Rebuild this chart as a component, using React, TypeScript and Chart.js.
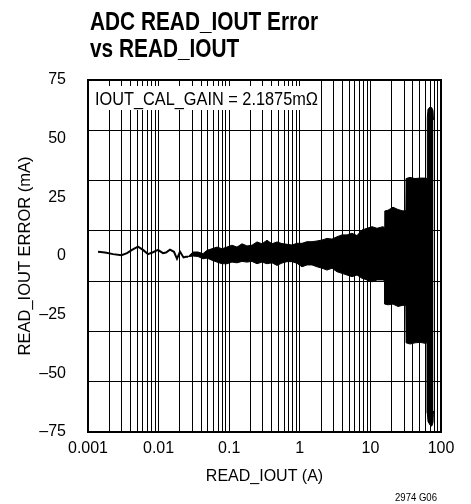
import React, { useEffect, useRef } from 'react';
import { Chart, registerables } from 'chart.js';

Chart.register(...registerables);

// ---- text ----
const TITLE_LINES = ['ADC READ_IOUT Error', 'vs READ_IOUT'];
const ANNOTATION = 'IOUT_CAL_GAIN = 2.1875m\u03A9';
const FIG_ID = '2974 G06';
const X_LABEL = 'READ_IOUT (A)';
const Y_LABEL = 'READ_IOUT ERROR (mA)';

// ---- axes ----
const X_DECADES = [0.001, 0.01, 0.1, 1, 10, 100];
const X_TICK_LABELS = ['0.001', '0.01', '0.1', '1', '10', '100'];
const X_MULTIPLES = [2, 3, 4, 5, 6, 7, 8, 9];
const Y_TICKS = [-75, -50, -25, 0, 25, 50, 75];
const Y_TICK_LABELS = ['\u201375', '\u201350', '\u201325', '0', '25', '50', '75'];
const Y_GRID = [-75, -53.57, -32.14, -10.71, 10.71, 32.14, 53.57, 75];

// ---- data: low-current smooth trace ----
const LINE_X = [0.001386, 0.00174, 0.00226, 0.00298, 0.00357, 0.0042, 0.0051, 0.00601, 0.00708, 0.00833,
  0.0098, 0.01154, 0.01273, 0.0145, 0.01652, 0.01822, 0.0201, 0.02253, 0.02443, 0.02609];
const LINE_Y = [1.8, 1.5, 0.8, 0.3, 1.2, 2.6, 4.0, 2.6, 0.8, 1.6,
  2.6, 1.2, 1.5, 2.7, 1.8, -1.2, 1.8, -0.6, -0.3, -0.3];

// ---- data: noisy region, upper / lower envelope of the trace ----
const BAND_X = [0.02609, 0.03071, 0.03614, 0.04254, 0.04849, 0.05706, 0.06718, 0.07907, 0.09307, 0.1095,
  0.129, 0.1518, 0.1787, 0.2103, 0.2475, 0.2914, 0.343, 0.4038, 0.4753, 0.5595,
  0.6586, 0.7753, 0.9127, 1.0744, 1.2647, 1.4888, 1.7525, 2.063, 2.429, 2.859,
  3.365, 3.961, 4.663, 5.489, 6.461, 7.606, 8.953, 10.54, 12.41, 15.08,
  15.9, 16.0, 17.76, 20.9, 24.6, 28.96, 31.8, 32.0, 36.38, 42.82,
  50.41, 59.34, 63.8, 64.0, 65.5, 69.85, 74, 77, 78.3];
const BAND_UPPER = [-0.3, 1.7, 1.7, 1.0, 2.4, 3.1, 3.8, 3.1, 3.8, 4.6,
  3.8, 5.2, 4.3, 4.6, 6.0, 5.2, 6.7, 5.2, 6.0, 5.3,
  5.0, 4.7, 5.4, 5.4, 6.1, 6.1, 6.4, 6.8, 7.5, 7.2,
  8.2, 9.0, 9.0, 9.7, 8.7, 11.1, 11.8, 12.5, 11.8, 12.5,
  12.0, 19.2, 19.5, 20.8, 19.8, 19.2, 19.4, 33.0, 33.5, 33.0,
  33.2, 33.2, 33.0, 59.0, 62.5, 63.5, 63.2, 62.0, 58.0];
const BAND_LOWER = [-0.3, 0.0, -0.2, -1.2, -0.9, -1.8, -2.6, -3.3, -3.3, -2.6,
  -2.9, -2.3, -2.6, -2.3, -3.3, -2.6, -3.3, -2.9, -4.0, -3.0,
  -2.4, -2.4, -3.1, -4.6, -3.8, -3.8, -4.6, -5.2, -6.0, -5.2,
  -6.7, -7.4, -8.1, -8.8, -8.1, -9.5, -10.2, -11.0, -10.2, -10.2,
  -10.5, -20.5, -20.8, -20.5, -21.5, -21.0, -21.2, -37.0, -37.5, -37.0,
  -36.8, -37.2, -37.0, -67.0, -70.5, -72.0, -72.5, -71.0, -66.0];

const FONT = '"Liberation Sans", Arial, sans-serif';
const INK = '#000';

function buildXGrid(): number[] {
  const out: number[] = [];
  X_DECADES.forEach((d, i) => {
    out.push(d);
    if (i < X_DECADES.length - 1) X_MULTIPLES.forEach((m) => out.push(d * m));
  });
  return out;
}

function drawFitted(ctx: CanvasRenderingContext2D, text: string, x: number, y: number, scale: number) {
  ctx.save();
  ctx.translate(x, y);
  ctx.scale(scale, 1);
  ctx.fillText(text, 0, 0);
  ctx.restore();
}

const decorPlugin = {
  id: 'decor',
  afterDraw(chart: any) {
    const { ctx, chartArea: a } = chart;
    ctx.save();
    // annotation box over the grid
    ctx.fillStyle = '#fff';
    ctx.fillRect(a.left + 1, a.top + 6, 232, 24);
    ctx.fillStyle = INK;
    ctx.textBaseline = 'alphabetic';
    ctx.textAlign = 'left';
    ctx.font = `18px ${FONT}`;
    let w = ctx.measureText(ANNOTATION).width;
    drawFitted(ctx, ANNOTATION, a.left + 7, a.top + 25, 223 / w);

    // title
    ctx.font = `bold 25px ${FONT}`;
    w = ctx.measureText(TITLE_LINES[0]).width;
    const s = 228 / w;
    drawFitted(ctx, TITLE_LINES[0], 90, 30, s);
    drawFitted(ctx, TITLE_LINES[1], 90, 57, s);

    // figure id
    ctx.font = `10px ${FONT}`;
    w = ctx.measureText(FIG_ID).width;
    drawFitted(ctx, FIG_ID, 395, 501, 42 / w);

    // plot frame
    ctx.strokeStyle = INK;
    ctx.lineWidth = 2;
    ctx.strokeRect(a.left, a.top, a.right - a.left, a.bottom - a.top);
    ctx.restore();
  },
};

export default function App() {
  const ref = useRef<HTMLCanvasElement>(null);

  useEffect(() => {
    document.body.style.margin = '0';
    const xGrid = buildXGrid();
    const chart = new Chart(ref.current as HTMLCanvasElement, {
      type: 'line',
      data: {
        datasets: [
          {
            data: LINE_X.map((x, i) => ({ x, y: LINE_Y[i] })),
            borderColor: INK,
            borderWidth: 2,
            pointRadius: 0,
            fill: false,
            tension: 0,
          },
          {
            data: BAND_X.map((x, i) => ({ x, y: BAND_UPPER[i] })),
            borderColor: INK,
            borderWidth: 1,
            pointRadius: 0,
            fill: false,
            tension: 0,
          },
          {
            data: BAND_X.map((x, i) => ({ x, y: BAND_LOWER[i] })),
            borderColor: INK,
            backgroundColor: INK,
            borderWidth: 1,
            pointRadius: 0,
            fill: '-1',
            tension: 0,
          },
        ],
      } as any,
      options: {
        animation: false,
        responsive: false,
        maintainAspectRatio: false,
        layout: { padding: { top: 80, right: 30, bottom: 0, left: 0 } },
        plugins: { legend: { display: false }, tooltip: { enabled: false } },
        scales: {
          x: {
            type: 'logarithmic',
            min: 0.001,
            max: 100,
            afterBuildTicks: (s: any) => {
              s.ticks = xGrid.map((v) => ({ value: v }));
            },
            afterFit: (s: any) => {
              s.height = 72;
            },
            ticks: {
              autoSkip: false,
              maxRotation: 0,
              padding: 7,
              color: INK,
              font: { family: FONT, size: 16 },
              callback: (v: any) => {
                const i = X_DECADES.indexOf(Number(v));
                return i >= 0 ? X_TICK_LABELS[i] : '';
              },
            },
            grid: { color: INK, lineWidth: 1, drawTicks: false },
            border: { display: false },
            title: {
              display: true,
              text: X_LABEL,
              color: INK,
              font: { family: FONT, size: 16 },
              padding: { top: 0, bottom: 18 },
            },
          },
          y: {
            type: 'linear',
            position: 'left',
            min: -75,
            max: 75,
            afterBuildTicks: (s: any) => {
              s.ticks = Y_TICKS.map((v) => ({ value: v }));
            },
            afterFit: (s: any) => {
              s.width = 88;
            },
            ticks: {
              padding: 14,
              color: INK,
              font: { family: FONT, size: 16 },
              callback: (_v: any, i: number) => Y_TICK_LABELS[i],
            },
            grid: { display: false },
            border: { display: false },
            title: {
              display: true,
              text: Y_LABEL,
              color: INK,
              font: { family: FONT, size: 16.5 },
              padding: { top: 16, bottom: 0 },
            },
          },
          y2: {
            type: 'linear',
            position: 'right',
            min: -75,
            max: 75,
            afterBuildTicks: (s: any) => {
              s.ticks = Y_GRID.map((v) => ({ value: v }));
            },
            afterFit: (s: any) => {
              s.width = 0;
            },
            ticks: { display: false },
            grid: { color: INK, lineWidth: 1, drawTicks: false },
            border: { display: false },
          },
        },
      } as any,
      plugins: [decorPlugin],
    });
    return () => chart.destroy();
  }, []);

  return (
    <div style={{ width: 471, height: 504 }}>
      <canvas ref={ref} width={471} height={504} style={{ display: 'block' }} />
    </div>
  );
}
